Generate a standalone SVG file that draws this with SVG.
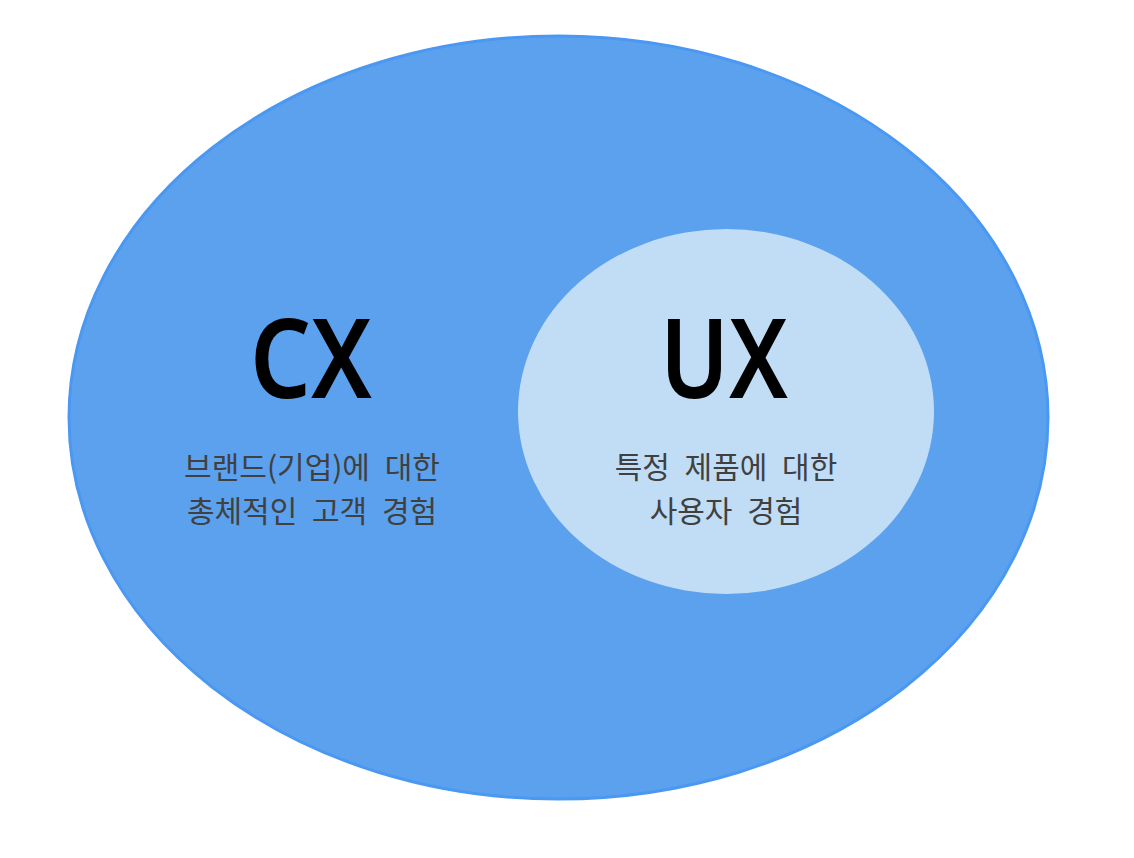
<svg xmlns="http://www.w3.org/2000/svg" width="1134" height="858" viewBox="0 0 1134 858">
<style>
.title{font-family:"Noto Sans","Noto Sans CJK KR",sans-serif;font-weight:600;font-size:111px;fill:#000;text-anchor:middle}
.desc{font-family:"Noto Sans CJK KR","Noto Sans",sans-serif;font-size:30px;word-spacing:8px;fill:#404040;text-anchor:middle}
</style>
<rect width="1134" height="858" fill="#fff"/>
<g id="cx">
<ellipse cx="558.5" cy="417.5" rx="489.5" ry="381.5" fill="#5ca1ee" stroke="#4a98f2" stroke-width="3"/>
<text class="title" x="311" y="398" textLength="122" lengthAdjust="spacingAndGlyphs">CX</text>
<text class="desc" x="312" y="478">브랜드(기업)에 대한</text>
<text class="desc" x="312" y="522">총체적인 고객 경험</text>
</g>
<g id="ux">
<ellipse cx="726" cy="411.5" rx="208" ry="182.5" fill="#c1ddf6"/>
<text class="title" x="724" y="398" textLength="128" lengthAdjust="spacingAndGlyphs">UX</text>
<text class="desc" x="726" y="478">특정 제품에 대한</text>
<text class="desc" x="726" y="522">사용자 경험</text>
</g>
<g id="connectors"/>
</svg>
